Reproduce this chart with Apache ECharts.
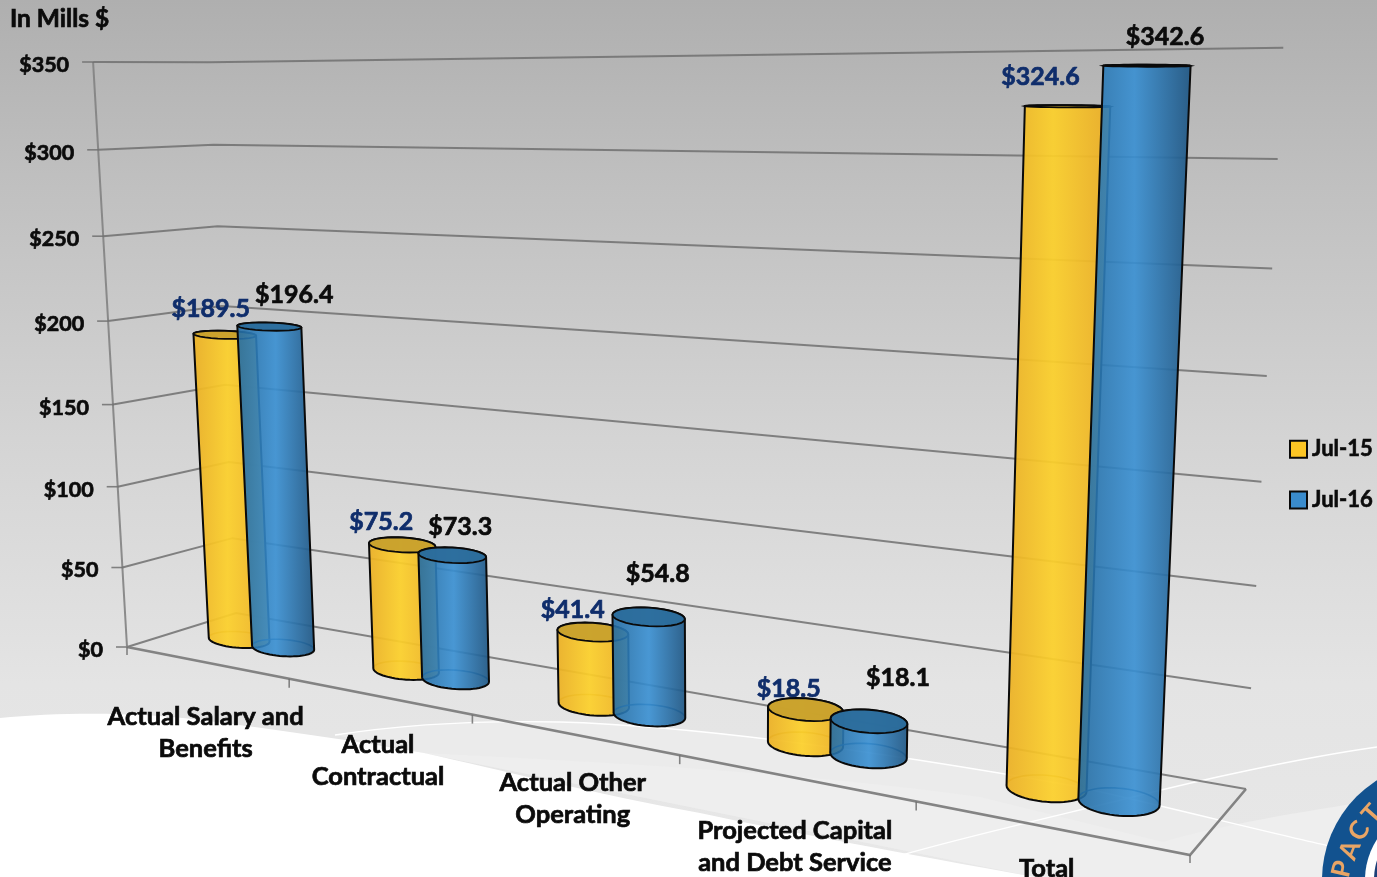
<!DOCTYPE html>
<html><head><meta charset="utf-8">
<style>html,body{margin:0;padding:0;background:#fff}#c{width:1377px;height:877px}</style>
<script src="https://cdn.jsdelivr.net/npm/echarts@6/dist/echarts.min.js"></script>
</head><body><div id="c"></div>
<script>
const categories = ['Actual Salary and\nBenefits','Actual\nContractual','Actual Other\nOperating','Projected Capital\nand Debt Service','Total'];
const seriesNames = ['Jul-15','Jul-16'];
const jul15 = [189.5,75.2,41.4,18.5,324.6];
const jul16 = [196.4,73.3,54.8,18.1,342.6];
const yTicks = [0,50,100,150,200,250,300,350];

// label nudges relative to the projected bar top, in pixels
const nudge15 = [[-14,-26],[-21,-23],[-20,-22],[-17,-21],[-27,-29]];
const nudge16 = [[25,-32],[8,-28],[9,-43],[29,-43],[18,-29]];
const catNudge = [[0,38],[0,33],[0,33],[1,37],[-1,26]];

// Perspective frame: floor homography and vertical scale
const C0=[127,647],C1=[1190,855],C2=[1246,789],C3=[236,613];
const dx1=C1[0]-C2[0],dx2=C3[0]-C2[0],sx=C0[0]-C1[0]+C2[0]-C3[0];
const dy1=C1[1]-C2[1],dy2=C3[1]-C2[1],sy=C0[1]-C1[1]+C2[1]-C3[1];
const det=dx1*dy2-dx2*dy1;
const G=(sx*dy2-dx2*sy)/det,Hh=(dx1*sy-sx*dy1)/det;
const A=C1[0]-C0[0]+G*C1[0],B=C3[0]-C0[0]+Hh*C3[0];
const D=C1[1]-C0[1]+G*C1[1],E=C3[1]-C0[1]+Hh*C3[1];
function project(u0,v,t){
  const u=u0+0.008*Math.sin(Math.PI*u0);
  const w=G*u+Hh*v+1;
  const fx=(A*u+B*v+C0[0])/w, fy=(D*u+E*v+C0[1])/w;
  const H=585*Math.pow(w,-0.9);
  const s=t/(t+(1-t)*1.06);
  const hp=H*s;
  return {x:fx+(fx-730)/(11050-fy)*hp, y:fy-hp, hp};
}
function norm(params,p){
  const r=params.coordSys;
  return {u:(p[0]-r.x)/r.width, t:(r.y+r.height-p[1])/r.height};
}
const LABEL='Lato, "Open Sans", sans-serif';
function font(s){return 'bold '+s+'px '+LABEL;}
const GRID='rgba(112,112,112,0.85)';
function textStyle(text,x,y,size,fill,align,va,extra){
  return Object.assign({text:text,x:x,y:y,font:font(size),fill:fill,align:align,verticalAlign:va,stroke:fill,lineWidth:0.7},extra||{});
}

function line(pts,width,color){
  return {type:'polyline',silent:true,shape:{points:pts.map(p=>[p.x,p.y])},style:{stroke:color||GRID,lineWidth:width||2,fill:null}};
}
function yTickLabel(v){return '$'+v;}
function renderFrame(params,api){
  const n=norm(params,api.coord([0,api.value(1)]));
  const t=n.t;
  const a=project(0,0,t),d=project(0,1,t),c=project(1,1,t);
  const kids=[line([a,d,c])];
  kids.push(line([a,{x:a.x-11,y:a.y}],1.6));
  kids.push({type:'text',silent:true,style:textStyle(yTickLabel(api.value(1)),a.x-24,a.y+3,21.5,'#0b0b0b','right','middle')});
  if(params.dataIndex===0){
    const steps=[];for(let i=0;i<=10;i++)steps.push(project(0,0,i/10));
    kids.push(line(steps,2,'rgba(130,130,130,0.9)'));
    kids.push(line([project(0,0,0),project(1,0,0),project(1,1,0)],2.6,'rgba(125,125,125,0.95)'));
    const b=project(1,0,0);
    kids.push(line([b,{x:b.x,y:b.y+8}],1.6));
    kids.push(line([project(0,0,0),{x:C0[0],y:C0[1]+8}],1.6));
  }
  return {type:'group',children:kids};
}
function renderCats(params,api){
  const i=api.value(0);
  const n=norm(params,api.coord([i,0]));
  const f=project(n.u,0,0);
  const kids=[];
  const edge=project((i+1)/categories.length,0,0);
  if(i<categories.length-1) kids.push(line([edge,{x:edge.x,y:edge.y+9}],1.6));
  kids.push({type:'text',silent:true,style:textStyle(categories[i],f.x+catNudge[i][0],f.y+catNudge[i][1],25.5,'#0b0b0b','center','top',{lineHeight:32})});
  return {type:'group',children:kids};
}
function arc(cx,cy,rx,ry,sl,t0,t1){
  const pts=[];const N=28;
  for(let k=0;k<=N;k++){
    const a=t0+(t1-t0)*k/N;
    pts.push([cx+rx*Math.cos(a),cy+ry*Math.sin(a)+sl*rx*Math.cos(a)]);
  }
  return pts;
}
function cylinder(style,shift,nudges){
  return function(params,api){
    const i=api.value(0),val=api.value(1);
    const n=norm(params,api.coord([i,val]));
    const u=n.u+shift;
    const b=project(u,0.5,0),p=project(u,0.5,n.t);
    const r=29.5+12*u;
    const shape=y=>({ratio:0.00045*(y-50),sl:0.08*(y-50)/750});
    const rb=r,rt=r*(1+0.0001*p.hp);
    const sb=shape(b.y),st=shape(p.y);
    const ryb=rb*sb.ratio,ryt=Math.max(rt*st.ratio,1);
    const PI=Math.PI;
    const body=arc(p.x,p.y,rt,ryt,st.sl,PI,2*PI).concat(arc(b.x,b.y,rb,ryb,sb.sl,0,PI));
    const kids=[
      {type:'polyline',silent:true,shape:{points:arc(b.x,b.y,rb,ryb,sb.sl,PI,2*PI)},style:{stroke:style.rim,lineWidth:1.6,fill:null}},
      {type:'polygon',shape:{points:body},style:{fill:{type:'linear',x:0,y:0,x2:1,y2:0,colorStops:style.stops},stroke:'#0a0a0a',lineWidth:2,lineJoin:'round'}},
      {type:'polygon',silent:true,shape:{points:arc(p.x,p.y,rt,ryt,st.sl,0,2*PI)},style:{fill:style.top,stroke:'#0a0a0a',lineWidth:1.8}},
      {type:'text',silent:true,style:textStyle('$'+val.toFixed(1),p.x+nudges[i][0],p.y+nudges[i][1],25,style.label,'center','middle')}
    ];
    return {type:'group',children:kids};
  };
}
const yellow={rim:'rgba(150,110,15,0.75)',top:'rgba(200,160,45,0.94)',label:'#0f2d6b',
  stops:[{offset:0,color:'rgba(235,175,35,0.93)'},{offset:0.45,color:'rgba(252,208,42,0.93)'},{offset:1,color:'rgba(235,172,36,0.93)'}]};
const blue={rim:'rgba(5,70,130,0.85)',top:'rgba(44,108,155,0.94)',label:'#0b0b0b',
  stops:[{offset:0,color:'rgba(34,106,160,0.9)'},{offset:0.5,color:'rgba(56,143,210,0.9)'},{offset:1,color:'rgba(30,85,130,0.92)'}]};

function logoLetter(ch,x,y,rot){
  return {type:'text',silent:true,x:x,y:y,rotation:rot,style:{text:ch,font:'bold 26px '+LABEL,fill:'#e9a565',align:'center',verticalAlign:'middle'}};
}
function pathEl(d,style){return {type:'path',silent:true,shape:{pathData:d},style:style};}
function renderBackdrop(){
  return {type:'group',children:[
    {type:'rect',silent:true,shape:{x:0,y:0,width:1377,height:877},style:{fill:{type:'linear',x:0,y:0,x2:0,y2:1,colorStops:[{offset:0,color:'#afafaf'},{offset:0.2,color:'#bfbfbf'},{offset:0.5,color:'#d4d4d4'},{offset:0.78,color:'#e4e4e4'},{offset:1,color:'#e8e8e8'}]}}},
    pathEl('M335,735 C400,725 470,720 560,722 C700,726 900,755 1080,787 C1200,815 1300,840 1377,860 L1377,877 L1035,877 L335,735 Z',{fill:'#ebebeb'}),
    pathEl('M424,753 C600,762 800,772 980,797 L1163,842 C1220,825 1300,812 1377,800 L1377,877 L1035,877 L424,753 Z',{fill:'#eeeeee'}),
    pathEl('M0,718 C60,712 140,712 200,720 C280,730 350,740 424,753 C500,770 600,795 700,813 C780,830 900,853 1035,877 L0,877 Z',{fill:'#ffffff'}),
    pathEl('M335,735 C400,725 470,720 560,722 C700,726 900,755 1080,787 C1200,815 1300,840 1330,846',{fill:null,stroke:'#ffffff',lineWidth:1.4}),
    pathEl('M902,855 C960,838 1060,815 1133,797 C1200,780 1300,758 1377,747',{fill:null,stroke:'#ffffff',lineWidth:1.4}),
    {type:'circle',silent:true,shape:{cx:1440,cy:880,r:118},style:{fill:'#12528f'}},
    {type:'circle',silent:true,shape:{cx:1440,cy:880,r:75},style:{fill:'#ffffff'}},
    {type:'circle',silent:true,shape:{cx:1440,cy:880,r:66},style:{fill:'#1d3f78'}},
    logoLetter('P',1342,869,1.35),logoLetter('A',1350,850,1.2),logoLetter('C',1359,831,1.0),logoLetter('T',1372,814,0.85),
    {type:'text',silent:true,style:textStyle('In Mills $',10,19,24.5,'#0b0b0b','left','middle')}
  ]};
}

const chart=echarts.init(document.getElementById('c'),null,{renderer:'canvas'});
chart.setOption({
  animation:false,
  grid:{left:0,top:0,right:0,bottom:0},
  xAxis:{type:'category',data:categories,show:false},
  yAxis:{type:'value',min:0,max:350,interval:50,show:false},
  legend:{
    orient:'vertical',left:1284,top:433,itemWidth:17,itemHeight:17,itemGap:28,itemTextGap:5,selectedMode:false,
    textStyle:{fontFamily:LABEL,fontWeight:'bold',fontSize:22,color:'#0b0b0b',textBorderColor:'#0b0b0b',textBorderWidth:0.6},
    data:[
      {name:'Jul-15',icon:'rect',itemStyle:{color:'#fcc524',borderColor:'#0a0a0a',borderWidth:2}},
      {name:'Jul-16',icon:'rect',itemStyle:{color:'#3a8ccd',borderColor:'#0a0a0a',borderWidth:2}}
    ]
  },
  series:[
    {type:'custom',name:'backdrop',coordinateSystem:'none',renderItem:renderBackdrop,silent:true,data:[[0]],z:0},
    {type:'custom',name:'frame',coordinateSystem:'cartesian2d',renderItem:renderFrame,clip:false,silent:true,data:yTicks.map(v=>[0,v]),encode:{x:0,y:1}},
    {type:'custom',name:'categories',coordinateSystem:'cartesian2d',renderItem:renderCats,clip:false,silent:true,data:categories.map((c,i)=>[i,0]),encode:{x:0,y:1}},
    {type:'custom',name:seriesNames[0],coordinateSystem:'cartesian2d',renderItem:cylinder(yellow,-0.0275,nudge15),clip:false,data:jul15.map((v,i)=>[i,v]),encode:{x:0,y:1}},
    {type:'custom',name:seriesNames[1],coordinateSystem:'cartesian2d',renderItem:cylinder(blue,0.0275,nudge16),clip:false,data:jul16.map((v,i)=>[i,v]),encode:{x:0,y:1}}
  ]
});
</script></body></html>
